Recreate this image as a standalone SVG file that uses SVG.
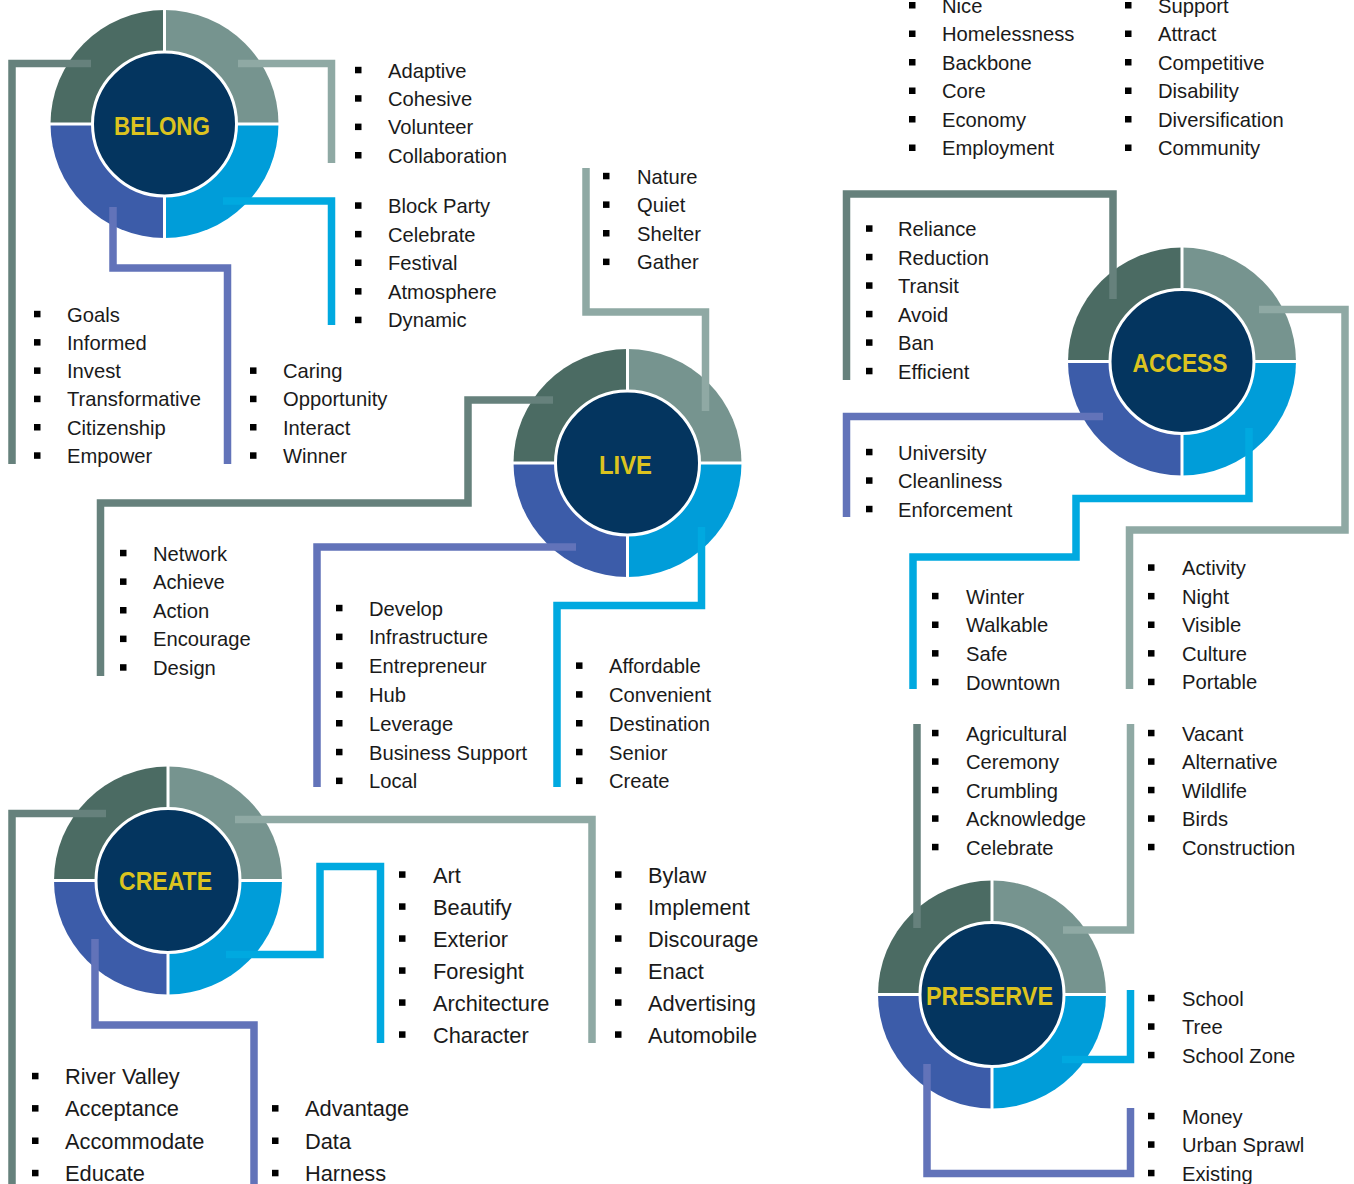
<svg xmlns="http://www.w3.org/2000/svg" width="1354" height="1184" viewBox="0 0 1354 1184">
<style>
.tl{fill:#4b6b63}.tr{fill:#76948f}.bl{fill:#3c5ca9}.br{fill:#009dd9}
.cross{stroke:#fff;stroke-width:3;fill:none}
.core{fill:#04355f;stroke:#fff;stroke-width:3}
.title{font-family:"Liberation Sans",Arial,sans-serif;font-weight:bold;font-size:25px;fill:#dcc31f;text-anchor:middle}
.c{fill:none;stroke-width:7.5;stroke-linejoin:miter;stroke-linecap:butt}
.teal{stroke:#66817c}.grey{stroke:#8fa9a4}.cyan{stroke:#00a9e0}.blue{stroke:#6273b9}
.t{font-family:"Liberation Sans",Arial,sans-serif;font-size:20.2px;fill:#1a1a1a}
.t2{font-family:"Liberation Sans",Arial,sans-serif;font-size:21.8px;fill:#1a1a1a}
.b{fill:#000}
</style>
<defs>
<g id="ring">
<path class="tl" d="M0,0 V-114 A114,114 0 0 0 -114,0 Z"/>
<path class="tr" d="M0,0 V-114 A114,114 0 0 1 114,0 Z"/>
<path class="br" d="M0,0 H114 A114,114 0 0 1 0,114 Z"/>
<path class="bl" d="M0,0 V114 A114,114 0 0 1 -114,0 Z"/>
<path class="cross" d="M0,-116 V116 M-116,0 H116"/>
<circle class="core" r="72"/>
</g>
</defs>
<rect width="1354" height="1184" fill="#fff"/>

<g id="belong">
<use href="#ring" transform="translate(164.5,124)"/>
<text class="title" x="162" y="135" textLength="96" lengthAdjust="spacingAndGlyphs">BELONG</text>
</g>
<g id="live">
<use href="#ring" transform="translate(627.5,463)"/>
<text class="title" x="625.5" y="474" textLength="53" lengthAdjust="spacingAndGlyphs">LIVE</text>
</g>
<g id="access">
<use href="#ring" transform="translate(1182,361.5)"/>
<text class="title" x="1180" y="372" textLength="95" lengthAdjust="spacingAndGlyphs">ACCESS</text>
</g>
<g id="create">
<use href="#ring" transform="translate(168,880.5)"/>
<text class="title" x="165.5" y="890" textLength="93" lengthAdjust="spacingAndGlyphs">CREATE</text>
</g>
<g id="preserve">
<use href="#ring" transform="translate(992,994.5)"/>
<text class="title" x="989.5" y="1005" textLength="127" lengthAdjust="spacingAndGlyphs">PRESERVE</text>
</g>

<g id="connectors">
<path class="c teal" d="M91,63.5 H12 V464"/>
<path class="c grey" d="M238,63.5 H331.5 V163"/>
<path class="c cyan" d="M223,201 H331.5 V325"/>
<path class="c blue" d="M113,207 V268 H227.5 V464"/>
<path class="c grey" d="M586,168 V312 H705.5 V411"/>
<path class="c teal" d="M553,400 H468 V503 H100.5 V676"/>
<path class="c blue" d="M576,547 H317 V787"/>
<path class="c cyan" d="M701.5,527 V605.5 H557 V787"/>
<path class="c teal" d="M846.5,380 V194 H1113 V299"/>
<path class="c blue" d="M1103,416.5 H846.5 V517"/>
<path class="c cyan" d="M1249,428 V498.5 H1076 V557 H913 V689"/>
<path class="c grey" d="M1259,309.5 H1345 V530 H1129.5 V689"/>
<path class="c teal" d="M917,724 V928"/>
<path class="c grey" d="M1063,930 H1130.5 V724"/>
<path class="c cyan" d="M1130.5,990 V1059.5 H1062"/>
<path class="c blue" d="M927,1064 V1173.5 H1130.5 V1108"/>
<path class="c teal" d="M106,813.5 H12 V1184"/>
<path class="c grey" d="M235,819.5 H592 V1043"/>
<path class="c cyan" d="M226,954.5 H320 V866.5 H380.5 V1043"/>
<path class="c blue" d="M95,939 V1025 H254 V1184"/>
</g>

<g id="list-top-mid">
<rect class="b" x="909" y="2" width="6.5" height="6.5"/><text class="t" x="942" y="12.8">Nice</text>
<rect class="b" x="909" y="30.5" width="6.5" height="6.5"/><text class="t" x="942" y="41.3">Homelessness</text>
<rect class="b" x="909" y="59" width="6.5" height="6.5"/><text class="t" x="942" y="69.8">Backbone</text>
<rect class="b" x="909" y="87.5" width="6.5" height="6.5"/><text class="t" x="942" y="98.3">Core</text>
<rect class="b" x="909" y="116" width="6.5" height="6.5"/><text class="t" x="942" y="126.8">Economy</text>
<rect class="b" x="909" y="144.5" width="6.5" height="6.5"/><text class="t" x="942" y="155.3">Employment</text>
</g>
<g id="list-top-right">
<rect class="b" x="1125" y="2" width="6.5" height="6.5"/><text class="t" x="1158" y="12.8">Support</text>
<rect class="b" x="1125" y="30.5" width="6.5" height="6.5"/><text class="t" x="1158" y="41.3">Attract</text>
<rect class="b" x="1125" y="59" width="6.5" height="6.5"/><text class="t" x="1158" y="69.8">Competitive</text>
<rect class="b" x="1125" y="87.5" width="6.5" height="6.5"/><text class="t" x="1158" y="98.3">Disability</text>
<rect class="b" x="1125" y="116" width="6.5" height="6.5"/><text class="t" x="1158" y="126.8">Diversification</text>
<rect class="b" x="1125" y="144.5" width="6.5" height="6.5"/><text class="t" x="1158" y="155.3">Community</text>
</g>
<g id="list-adaptive">
<rect class="b" x="355" y="66.8" width="6.5" height="6.5"/><text class="t" x="388" y="77.5">Adaptive</text>
<rect class="b" x="355" y="95.2" width="6.5" height="6.5"/><text class="t" x="388" y="105.9">Cohesive</text>
<rect class="b" x="355" y="123.6" width="6.5" height="6.5"/><text class="t" x="388" y="134.3">Volunteer</text>
<rect class="b" x="355" y="152" width="6.5" height="6.5"/><text class="t" x="388" y="162.7">Collaboration</text>
</g>
<g id="list-block-party">
<rect class="b" x="355" y="202.3" width="6.5" height="6.5"/><text class="t" x="388" y="213">Block Party</text>
<rect class="b" x="355" y="230.9" width="6.5" height="6.5"/><text class="t" x="388" y="241.6">Celebrate</text>
<rect class="b" x="355" y="259.5" width="6.5" height="6.5"/><text class="t" x="388" y="270.2">Festival</text>
<rect class="b" x="355" y="288.1" width="6.5" height="6.5"/><text class="t" x="388" y="298.8">Atmosphere</text>
<rect class="b" x="355" y="316.7" width="6.5" height="6.5"/><text class="t" x="388" y="327.4">Dynamic</text>
</g>
<g id="list-goals">
<rect class="b" x="34" y="310.8" width="6.5" height="6.5"/><text class="t" x="67" y="321.5">Goals</text>
<rect class="b" x="34" y="339.1" width="6.5" height="6.5"/><text class="t" x="67" y="349.8">Informed</text>
<rect class="b" x="34" y="367.4" width="6.5" height="6.5"/><text class="t" x="67" y="378.1">Invest</text>
<rect class="b" x="34" y="395.7" width="6.5" height="6.5"/><text class="t" x="67" y="406.4">Transformative</text>
<rect class="b" x="34" y="424" width="6.5" height="6.5"/><text class="t" x="67" y="434.7">Citizenship</text>
<rect class="b" x="34" y="452.3" width="6.5" height="6.5"/><text class="t" x="67" y="463">Empower</text>
</g>
<g id="list-caring">
<rect class="b" x="250" y="367.4" width="6.5" height="6.5"/><text class="t" x="283" y="378.1">Caring</text>
<rect class="b" x="250" y="395.7" width="6.5" height="6.5"/><text class="t" x="283" y="406.4">Opportunity</text>
<rect class="b" x="250" y="424" width="6.5" height="6.5"/><text class="t" x="283" y="434.7">Interact</text>
<rect class="b" x="250" y="452.3" width="6.5" height="6.5"/><text class="t" x="283" y="463">Winner</text>
</g>
<g id="list-nature">
<rect class="b" x="603" y="172.8" width="6.5" height="6.5"/><text class="t" x="637" y="183.5">Nature</text>
<rect class="b" x="603" y="201.4" width="6.5" height="6.5"/><text class="t" x="637" y="212.1">Quiet</text>
<rect class="b" x="603" y="230" width="6.5" height="6.5"/><text class="t" x="637" y="240.7">Shelter</text>
<rect class="b" x="603" y="258.6" width="6.5" height="6.5"/><text class="t" x="637" y="269.3">Gather</text>
</g>
<g id="list-network">
<rect class="b" x="120" y="549.8" width="6.5" height="6.5"/><text class="t" x="153" y="560.5">Network</text>
<rect class="b" x="120" y="578.4" width="6.5" height="6.5"/><text class="t" x="153" y="589.1">Achieve</text>
<rect class="b" x="120" y="607" width="6.5" height="6.5"/><text class="t" x="153" y="617.7">Action</text>
<rect class="b" x="120" y="635.6" width="6.5" height="6.5"/><text class="t" x="153" y="646.3">Encourage</text>
<rect class="b" x="120" y="664.2" width="6.5" height="6.5"/><text class="t" x="153" y="674.9">Design</text>
</g>
<g id="list-develop">
<rect class="b" x="336" y="604.8" width="6.5" height="6.5"/><text class="t" x="369" y="615.5">Develop</text>
<rect class="b" x="336" y="633.6" width="6.5" height="6.5"/><text class="t" x="369" y="644.3">Infrastructure</text>
<rect class="b" x="336" y="662.4" width="6.5" height="6.5"/><text class="t" x="369" y="673.1">Entrepreneur</text>
<rect class="b" x="336" y="691.2" width="6.5" height="6.5"/><text class="t" x="369" y="701.9">Hub</text>
<rect class="b" x="336" y="720" width="6.5" height="6.5"/><text class="t" x="369" y="730.7">Leverage</text>
<rect class="b" x="336" y="748.8" width="6.5" height="6.5"/><text class="t" x="369" y="759.5">Business Support</text>
<rect class="b" x="336" y="777.6" width="6.5" height="6.5"/><text class="t" x="369" y="788.3">Local</text>
</g>
<g id="list-affordable">
<rect class="b" x="576" y="662.4" width="6.5" height="6.5"/><text class="t" x="609" y="673.1">Affordable</text>
<rect class="b" x="576" y="691.2" width="6.5" height="6.5"/><text class="t" x="609" y="701.9">Convenient</text>
<rect class="b" x="576" y="720" width="6.5" height="6.5"/><text class="t" x="609" y="730.7">Destination</text>
<rect class="b" x="576" y="748.8" width="6.5" height="6.5"/><text class="t" x="609" y="759.5">Senior</text>
<rect class="b" x="576" y="777.6" width="6.5" height="6.5"/><text class="t" x="609" y="788.3">Create</text>
</g>
<g id="list-reliance">
<rect class="b" x="866" y="225.3" width="6.5" height="6.5"/><text class="t" x="898" y="236">Reliance</text>
<rect class="b" x="866" y="253.8" width="6.5" height="6.5"/><text class="t" x="898" y="264.5">Reduction</text>
<rect class="b" x="866" y="282.3" width="6.5" height="6.5"/><text class="t" x="898" y="293">Transit</text>
<rect class="b" x="866" y="310.8" width="6.5" height="6.5"/><text class="t" x="898" y="321.5">Avoid</text>
<rect class="b" x="866" y="339.3" width="6.5" height="6.5"/><text class="t" x="898" y="350">Ban</text>
<rect class="b" x="866" y="367.8" width="6.5" height="6.5"/><text class="t" x="898" y="378.5">Efficient</text>
</g>
<g id="list-university">
<rect class="b" x="866" y="448.8" width="6.5" height="6.5"/><text class="t" x="898" y="459.5">University</text>
<rect class="b" x="866" y="477.3" width="6.5" height="6.5"/><text class="t" x="898" y="488">Cleanliness</text>
<rect class="b" x="866" y="505.8" width="6.5" height="6.5"/><text class="t" x="898" y="516.5">Enforcement</text>
</g>
<g id="list-winter">
<rect class="b" x="932" y="592.8" width="6.5" height="6.5"/><text class="t" x="966" y="603.5">Winter</text>
<rect class="b" x="932" y="621.5" width="6.5" height="6.5"/><text class="t" x="966" y="632.2">Walkable</text>
<rect class="b" x="932" y="650.1" width="6.5" height="6.5"/><text class="t" x="966" y="660.8">Safe</text>
<rect class="b" x="932" y="678.8" width="6.5" height="6.5"/><text class="t" x="966" y="689.5">Downtown</text>
</g>
<g id="list-activity">
<rect class="b" x="1148" y="564.3" width="6.5" height="6.5"/><text class="t" x="1182" y="575">Activity</text>
<rect class="b" x="1148" y="592.9" width="6.5" height="6.5"/><text class="t" x="1182" y="603.6">Night</text>
<rect class="b" x="1148" y="621.5" width="6.5" height="6.5"/><text class="t" x="1182" y="632.2">Visible</text>
<rect class="b" x="1148" y="650.1" width="6.5" height="6.5"/><text class="t" x="1182" y="660.8">Culture</text>
<rect class="b" x="1148" y="678.7" width="6.5" height="6.5"/><text class="t" x="1182" y="689.4">Portable</text>
</g>
<g id="list-agricultural">
<rect class="b" x="932" y="729.8" width="6.5" height="6.5"/><text class="t" x="966" y="740.5">Agricultural</text>
<rect class="b" x="932" y="758.3" width="6.5" height="6.5"/><text class="t" x="966" y="769">Ceremony</text>
<rect class="b" x="932" y="786.8" width="6.5" height="6.5"/><text class="t" x="966" y="797.5">Crumbling</text>
<rect class="b" x="932" y="815.3" width="6.5" height="6.5"/><text class="t" x="966" y="826">Acknowledge</text>
<rect class="b" x="932" y="843.8" width="6.5" height="6.5"/><text class="t" x="966" y="854.5">Celebrate</text>
</g>
<g id="list-vacant">
<rect class="b" x="1148" y="729.8" width="6.5" height="6.5"/><text class="t" x="1182" y="740.5">Vacant</text>
<rect class="b" x="1148" y="758.3" width="6.5" height="6.5"/><text class="t" x="1182" y="769">Alternative</text>
<rect class="b" x="1148" y="786.8" width="6.5" height="6.5"/><text class="t" x="1182" y="797.5">Wildlife</text>
<rect class="b" x="1148" y="815.3" width="6.5" height="6.5"/><text class="t" x="1182" y="826">Birds</text>
<rect class="b" x="1148" y="843.8" width="6.5" height="6.5"/><text class="t" x="1182" y="854.5">Construction</text>
</g>
<g id="list-school">
<rect class="b" x="1148" y="994.8" width="6.5" height="6.5"/><text class="t" x="1182" y="1005.5">School</text>
<rect class="b" x="1148" y="1023.3" width="6.5" height="6.5"/><text class="t" x="1182" y="1034">Tree</text>
<rect class="b" x="1148" y="1051.8" width="6.5" height="6.5"/><text class="t" x="1182" y="1062.5">School Zone</text>
</g>
<g id="list-money">
<rect class="b" x="1148" y="1112.8" width="6.5" height="6.5"/><text class="t" x="1182" y="1123.5">Money</text>
<rect class="b" x="1148" y="1141.3" width="6.5" height="6.5"/><text class="t" x="1182" y="1152">Urban Sprawl</text>
<rect class="b" x="1148" y="1169.8" width="6.5" height="6.5"/><text class="t" x="1182" y="1180.5">Existing</text>
</g>
<g id="list-art">
<rect class="b" x="399" y="871.3" width="6.5" height="6.5"/><text class="t2" x="433" y="882.5">Art</text>
<rect class="b" x="399" y="903.3" width="6.5" height="6.5"/><text class="t2" x="433" y="914.5">Beautify</text>
<rect class="b" x="399" y="935.3" width="6.5" height="6.5"/><text class="t2" x="433" y="946.5">Exterior</text>
<rect class="b" x="399" y="967.3" width="6.5" height="6.5"/><text class="t2" x="433" y="978.5">Foresight</text>
<rect class="b" x="399" y="999.3" width="6.5" height="6.5"/><text class="t2" x="433" y="1010.5">Architecture</text>
<rect class="b" x="399" y="1031.3" width="6.5" height="6.5"/><text class="t2" x="433" y="1042.5">Character</text>
</g>
<g id="list-bylaw">
<rect class="b" x="615" y="871.3" width="6.5" height="6.5"/><text class="t2" x="648" y="882.5">Bylaw</text>
<rect class="b" x="615" y="903.3" width="6.5" height="6.5"/><text class="t2" x="648" y="914.5">Implement</text>
<rect class="b" x="615" y="935.3" width="6.5" height="6.5"/><text class="t2" x="648" y="946.5">Discourage</text>
<rect class="b" x="615" y="967.3" width="6.5" height="6.5"/><text class="t2" x="648" y="978.5">Enact</text>
<rect class="b" x="615" y="999.3" width="6.5" height="6.5"/><text class="t2" x="648" y="1010.5">Advertising</text>
<rect class="b" x="615" y="1031.3" width="6.5" height="6.5"/><text class="t2" x="648" y="1042.5">Automobile</text>
</g>
<g id="list-river">
<rect class="b" x="32" y="1072.8" width="6.5" height="6.5"/><text class="t2" x="65" y="1084">River Valley</text>
<rect class="b" x="32" y="1105.1" width="6.5" height="6.5"/><text class="t2" x="65" y="1116.3">Acceptance</text>
<rect class="b" x="32" y="1137.5" width="6.5" height="6.5"/><text class="t2" x="65" y="1148.7">Accommodate</text>
<rect class="b" x="32" y="1169.8" width="6.5" height="6.5"/><text class="t2" x="65" y="1181">Educate</text>
</g>
<g id="list-advantage">
<rect class="b" x="272" y="1105.1" width="6.5" height="6.5"/><text class="t2" x="305" y="1116.3">Advantage</text>
<rect class="b" x="272" y="1137.5" width="6.5" height="6.5"/><text class="t2" x="305" y="1148.7">Data</text>
<rect class="b" x="272" y="1169.8" width="6.5" height="6.5"/><text class="t2" x="305" y="1181">Harness</text>
</g>
</svg>
